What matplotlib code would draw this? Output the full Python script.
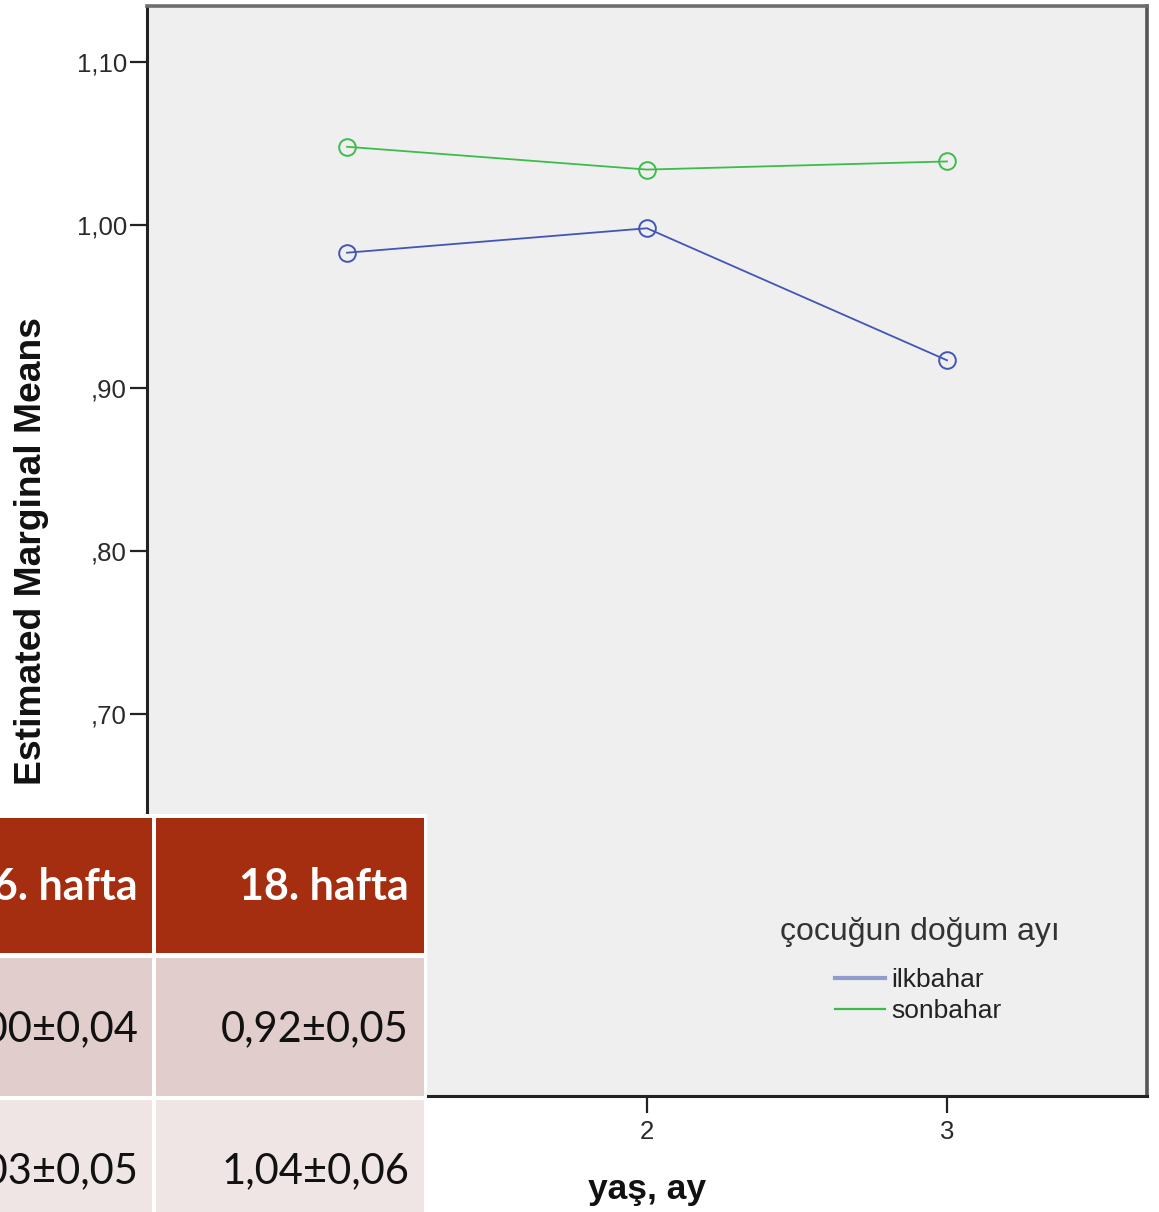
import matplotlib
matplotlib.use("Agg")
import matplotlib.pyplot as plt
from matplotlib.patches import Rectangle
from matplotlib.lines import Line2D

# ---- data ----
x_age = [1, 2, 3]
series_names = ["ilkbahar", "sonbahar"]
ilkbahar = [0.983, 0.998, 0.917]
sonbahar = [1.048, 1.034, 1.039]
ytick_values = [0.50, 0.60, 0.70, 0.80, 0.90, 1.00, 1.10]
ytick_labels = [",50", ",60", ",70", ",80", ",90", "1,00", "1,10"]
xtick_values = [1, 2, 3]
xtick_labels = ["1", "2", "3"]
legend_title = "çocuğun doğum ayı"
y_label = "Estimated Marginal Means"
x_label = "yaş, ay"

table_header = ["6. hafta", "18. hafta"]
table_rows = [["1,00±0,04", "0,92±0,05"],
              ["1,03±0,05", "1,04±0,06"]]

W, H = 1159, 1212
fig = plt.figure(figsize=(W / 100, H / 100), dpi=100)
fig.patch.set_facecolor("white")

# axes: pixel box x 147..1147, y 6..1096
ax = fig.add_axes([147 / W, (H - 1096) / H, 1000 / W, 1090 / H])
ax.set_facecolor("#EFEFEF")
blue = "#4256B6"
green = "#3CBD4B"
for vals, col, name in [(ilkbahar, blue, series_names[0]), (sonbahar, green, series_names[1])]:
    ax.plot(x_age, vals, color=col, lw=1.3, marker="o", ms=12, mfc="none",
            mec=col, mew=1.4, label=name, zorder=3)

ax.set_xlim(1 / 3, 11 / 3)
ax.set_ylim(1.10 - 1034 / 1630, 1.10 + 56 / 1630)
ax.set_yticks(ytick_values)
ax.set_yticklabels(ytick_labels, fontfamily="Liberation Sans", fontsize=18.5, color="#2a2a2a")
ax.set_xticks(xtick_values)
ax.set_xticklabels(xtick_labels, fontfamily="Liberation Sans", fontsize=18.5, color="#2a2a2a")
ax.tick_params(axis="y", length=12.5, width=1.6, pad=2, color="#222222")
ax.tick_params(axis="x", length=12, width=1.6, pad=5, color="#222222")

for s in ["left", "bottom"]:
    ax.spines[s].set_color("#222222")
    ax.spines[s].set_linewidth(2.2)
ax.spines["top"].set_color("#6e6e6e")
ax.spines["top"].set_linewidth(2.6)
ax.spines["right"].set_color("#555555")
ax.spines["right"].set_linewidth(2.6)

ax.set_ylabel(y_label, fontfamily="Liberation Sans", fontweight="bold", fontsize=26.8, color="#111111")
ax.yaxis.set_label_coords(-0.098, 0.5)
ax.set_xlabel(x_label, fontfamily="Liberation Sans", fontweight="bold", fontsize=25.5, color="#111111")
ax.xaxis.set_label_coords(0.5, -0.071)

# legend
handles = [Line2D([], [], color=blue, lw=3, alpha=0.55), Line2D([], [], color=green, lw=1.6)]
leg = ax.legend(handles, series_names, loc="upper left",
                bbox_to_anchor=((835 - 147) / 1000, (1096 - 968) / 1090),
                frameon=False, prop={"family": "Liberation Sans", "size": 19},
                handlelength=1.9, handletextpad=0.25, labelspacing=0.28, borderpad=0,
                borderaxespad=0)
for t in leg.get_texts():
    t.set_color("#222222")
ax.text((780 - 147) / 1000, (1096 - 932) / 1090, legend_title, transform=ax.transAxes,
        ha="left", va="center", fontfamily="Liberation Sans", fontsize=23, color="#333333")

# table overlay (pixel coordinates)
tax = fig.add_axes([0, 0, 1, 1], zorder=5)
tax.set_xlim(0, W)
tax.set_ylim(H, 0)
tax.axis("off")
tax.add_patch(Rectangle((0, 814), 427, H - 814, facecolor="white", edgecolor="none"))
col_x = [(-200, 152), (156, 424)]
row_y = [(818, 953), (958, 1096), (1100, H + 5)]
fills = ["#A52E10", "#E0CDCC", "#EFE5E4"]
for ri, (y0, y1) in enumerate(row_y):
    for ci, (x0, x1) in enumerate(col_x):
        tax.add_patch(Rectangle((x0, y0), x1 - x0, y1 - y0, facecolor=fills[ri], edgecolor="none"))
text_right = [138, 409]
for ci, h in enumerate(table_header):
    tax.text(text_right[ci], 887, h, ha="right", va="center", fontfamily="Lato",
             fontweight="bold", fontsize=31, color="white")
for ri, row in enumerate(table_rows):
    yc = [1029, 1171][ri]
    for ci, v in enumerate(row):
        tax.text(text_right[ci], yc, v, ha="right", va="center", fontfamily="Lato",
                 fontweight="normal", fontsize=30, color="#111111")

fig.savefig("out.png", dpi=100)
